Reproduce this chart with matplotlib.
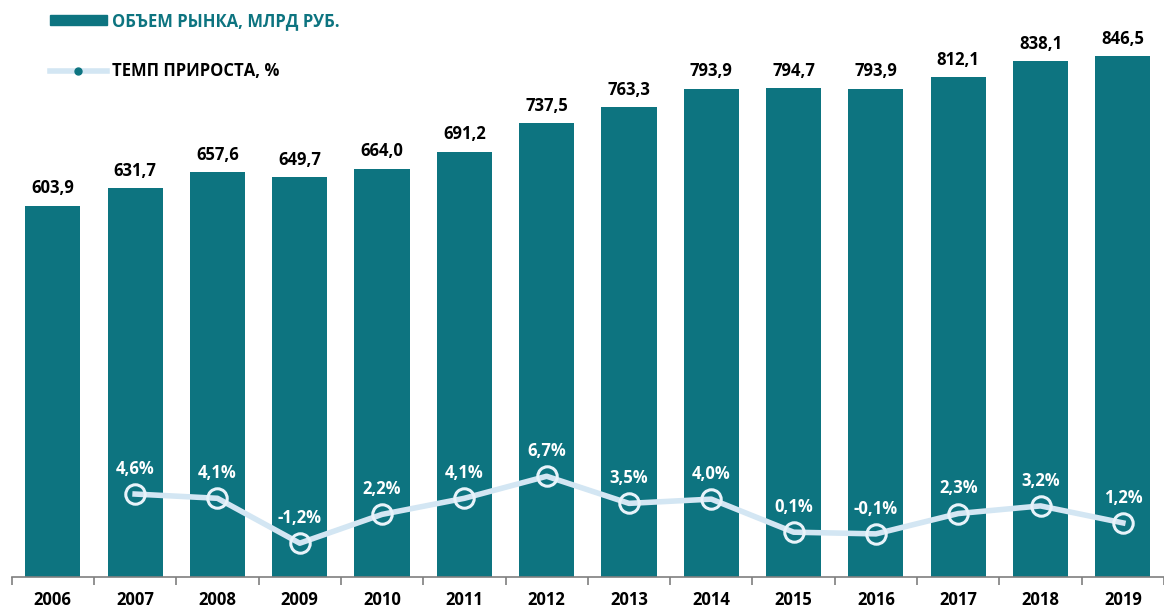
import matplotlib.pyplot as plt
import numpy as np
from matplotlib.lines import Line2D
from matplotlib.patches import Patch

# данные
years = ['2006', '2007', '2008', '2009', '2010', '2011', '2012',
         '2013', '2014', '2015', '2016', '2017', '2018', '2019']
volume = [603.9, 631.7, 657.6, 649.7, 664.0, 691.2, 737.5,
          763.3, 793.9, 794.7, 793.9, 812.1, 838.1, 846.5]
growth_years = years[1:]
growth = [4.6, 4.1, -1.2, 2.2, 4.1, 6.7, 3.5, 4.0, 0.1, -0.1, 2.3, 3.2, 1.2]

teal = '#0D7480'
light = '#D3E6F3'

plt.rcParams['font.family'] = ['Open Sans', 'DejaVu Sans']

fig = plt.figure(figsize=(11.64, 6.07), dpi=100)
ax = fig.add_axes([0.01, 0.0494, 0.99, 0.9506])

x = np.arange(len(years))
ax.bar(x, volume, width=0.67, color=teal, zorder=2)
for xi, v in zip(x, volume):
    ax.text(xi, v + 14, f'{v:.1f}'.replace('.', ','), ha='center', va='bottom',
            fontsize=12, fontweight='bold', color='black')

ax.set_xlim(-0.5, 13.43)
ax.set_ylim(0, 938)
ax.set_xticks(x)
ax.set_xticklabels(years, fontsize=12, fontweight='bold')
ax.set_xticks(np.arange(-0.5, 14, 1), minor=True)
ax.tick_params(axis='x', which='major', length=0, pad=10)
ax.tick_params(axis='x', which='minor', length=6, color='#7f7f7f', width=1.2)
ax.set_yticks([])
for s in ['top', 'right', 'left']:
    ax.spines[s].set_visible(False)
ax.spines['bottom'].set_color('#7f7f7f')
ax.spines['bottom'].set_linewidth(1.2)

# темп прироста
ax2 = ax.twinx()
ax2.set_ylim(-5.19, 62.9)
gx = x[1:]
ax2.plot(gx, growth, color=light, lw=4, marker='o', markersize=14,
         markerfacecolor='none', markeredgecolor='#E8F3FA', markeredgewidth=2.2, zorder=3)
ax2.plot(gx, growth, lw=0, marker='o', markersize=12, markerfacecolor=teal,
         markeredgecolor='none', zorder=2)
for xi, g in zip(gx, growth):
    ax2.text(xi, g + 1.9, f'{g:.1f}%'.replace('.', ','), ha='center', va='bottom',
             fontsize=12, fontweight='bold', color='white')
ax2.axis('off')

handles = [Patch(color=teal),
           Line2D([0], [0], color=light, lw=4, marker='o', markersize=5,
                  markerfacecolor=teal, markeredgecolor=teal)]
leg = fig.legend(handles, ['ОБЪЕМ РЫНКА, МЛРД РУБ.', 'ТЕМП ПРИРОСТА, %'],
                 loc='upper left', bbox_to_anchor=(0.03, 1.005), frameon=False,
                 prop={'size': 12, 'weight': 'bold'}, handlelength=3.4,
                 handleheight=0.6, labelspacing=1.95, handletextpad=0.3)
leg.get_texts()[0].set_color(teal)

fig.savefig('out.png', dpi=100)
